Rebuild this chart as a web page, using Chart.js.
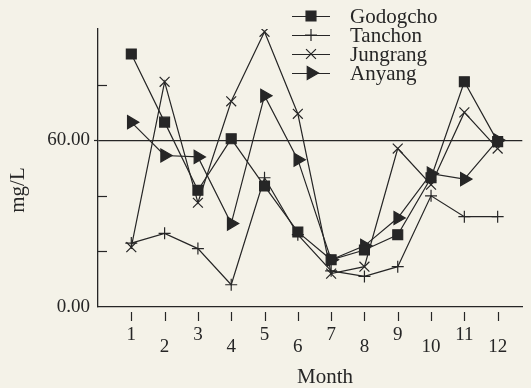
<!DOCTYPE html>
<html>
<head>
<meta charset="utf-8">
<script src="https://cdn.jsdelivr.net/npm/chart.js@4.4.0/dist/chart.umd.min.js"></script>
<style>
  body { margin: 0; background: #f4f2e8; }
  canvas { display: block; }
</style>
</head>
<body>
<canvas id="chart" width="531" height="388"></canvas>
<script>
// values (mg/L)
var months = [1, 2, 3, 4, 5, 6, 7, 8, 9, 10, 11, 12];
var monthLabels = ['1', '2', '3', '4', '5', '6', '7', '8', '9', '10', '11', '12'];
var godogcho = [91, 66.5, 42, 60.5, 43.5, 27, 17, 20.5, 26, 46.5, 81, 59.5];
var tanchon = [23, 26.5, 21, 8, 46.5, 26, 13, 11, 14.5, 40, 32.5, 32.5];
var jungrang = [21.5, 81, 37.5, 74, 99, 69.5, 12, 14.5, 57, 44, 70, 57];
var anyang = [66.5, 54.5, 54, 30, 76, 53, 17, 22, 32, 48, 46, 60];
var yLabelled = [0, 60];
var yMinorTicks = [20, 40, 80];

var ink = '#262626';
var serif = "'Liberation Serif', 'Times New Roman', serif";

function pts(values) {
    return values.map(function (v, i) { return { x: months[i], y: v }; });
}

function series(label, values, style, radius, rotation) {
    return {
        label: label,
        data: pts(values),
        borderColor: ink,
        borderWidth: 1.2,
        backgroundColor: ink,
        pointStyle: style,
        pointRadius: radius,
        pointRotation: rotation || 0,
        pointBorderWidth: 1.2,
        pointBackgroundColor: ink,
        pointBorderColor: ink,
        tension: 0,
        fill: false
    };
}

var datasets = [
    series('Godogcho', godogcho, 'rect', 7),
    series('Tanchon', tanchon, 'cross', 6),
    series('Jungrang', jungrang, 'crossRot', 7),
    series('Anyang', anyang, 'triangle', 7.5, 90)
];

function marker(c, ds, x, y) {
    c.fillStyle = ink;
    c.strokeStyle = ink;
    c.lineWidth = 1.2;
    Chart.helpers.drawPoint(c, {
        pointStyle: ds.pointStyle,
        radius: ds.pointRadius,
        rotation: ds.pointRotation,
        borderWidth: 1.2
    }, x, y);
}

var paper = {
    id: 'paper',
    beforeDraw: function (chart) {
        var c = chart.ctx;
        c.save();
        c.fillStyle = '#f4f2e8';
        c.fillRect(0, 0, chart.width, chart.height);
        c.restore();
    },
    afterDraw: function (chart) {
        var c = chart.ctx;
        var xs = chart.scales.x, ys = chart.scales.y;
        c.save();
        c.strokeStyle = ink;
        c.lineWidth = 1.2;
        // month tick marks hang below the axis with a small gap
        months.forEach(function (m) {
            var px = Math.round(xs.getPixelForValue(m)) + 0.5;
            c.beginPath();
            c.moveTo(px, ys.bottom + 5);
            c.lineTo(px, ys.bottom + 14);
            c.stroke();
        });
        // unlabelled y ticks point inward
        yMinorTicks.forEach(function (v) {
            var py = Math.round(ys.getPixelForValue(v)) + 0.5;
            c.beginPath();
            c.moveTo(xs.left, py);
            c.lineTo(xs.left + 9, py);
            c.stroke();
        });
        // short stub left of the axis at 60
        var p60 = Math.round(ys.getPixelForValue(60)) + 0.5;
        c.beginPath();
        c.moveTo(xs.left - 4, p60);
        c.lineTo(xs.left, p60);
        c.stroke();

        // axis titles
        c.fillStyle = ink;
        c.font = '21px ' + serif;
        c.textAlign = 'center';
        c.textBaseline = 'middle';
        c.fillText('Month', 325, 377);
        c.save();
        c.translate(18, 190);
        c.rotate(-Math.PI / 2);
        c.fillText('mg/L', 0, 0);
        c.restore();

        // legend: line sample with marker, then name
        c.textAlign = 'left';
        chart.data.datasets.forEach(function (ds, i) {
            var ly = 16 + i * 19;
            c.strokeStyle = ink;
            c.lineWidth = 1.2;
            c.beginPath();
            c.moveTo(292, ly + 0.5);
            c.lineTo(330, ly + 0.5);
            c.stroke();
            marker(c, ds, 311, ly);
            c.fillStyle = ink;
            c.font = '21px ' + serif;
            c.fillText(ds.label, 350, ly + 1);
        });
        c.restore();
    }
};

new Chart(document.getElementById('chart').getContext('2d'), {
    type: 'line',
    data: { datasets: datasets },
    options: {
        responsive: false,
        animation: false,
        layout: { padding: { top: 29, right: 0, left: 0, bottom: 0 } },
        plugins: { legend: { display: false }, tooltip: { enabled: false } },
        scales: {
            x: {
                type: 'linear',
                min: 0,
                max: 12.74,
                afterFit: function (s) { s.height = 81; },
                afterBuildTicks: function (s) {
                    s.ticks = months.map(function (m) { return { value: m }; });
                },
                ticks: {
                    stepSize: 1,
                    includeBounds: false,
                    autoSkip: false,
                    maxRotation: 0,
                    padding: 22,
                    color: ink,
                    font: { family: serif, size: 19, lineHeight: 0.63 },
                    callback: function (v) {
                        var lab = monthLabels[months.indexOf(v)];
                        if (lab === undefined) return '';
                        return v % 2 === 0 ? ['', lab] : lab;
                    }
                },
                grid: { display: true, drawOnChartArea: false, drawTicks: false },
                border: { display: true, color: ink, width: 1.3 }
            },
            y: {
                min: 0,
                max: 100,
                afterFit: function (s) { s.width = 98; },
                ticks: {
                    stepSize: 20,
                    padding: 8,
                    color: ink,
                    font: { family: serif, size: 19 },
                    callback: function (v) {
                        return yLabelled.indexOf(v) >= 0 ? v.toFixed(2) : '';
                    }
                },
                grid: {
                    drawTicks: false,
                    lineWidth: 1.2,
                    color: function (ctx) {
                        return ctx.tick && ctx.tick.value === 60 ? ink : 'rgba(0,0,0,0)';
                    }
                },
                border: { display: true, color: ink, width: 1.3 }
            }
        }
    },
    plugins: [paper]
});
</script>
</body>
</html>
